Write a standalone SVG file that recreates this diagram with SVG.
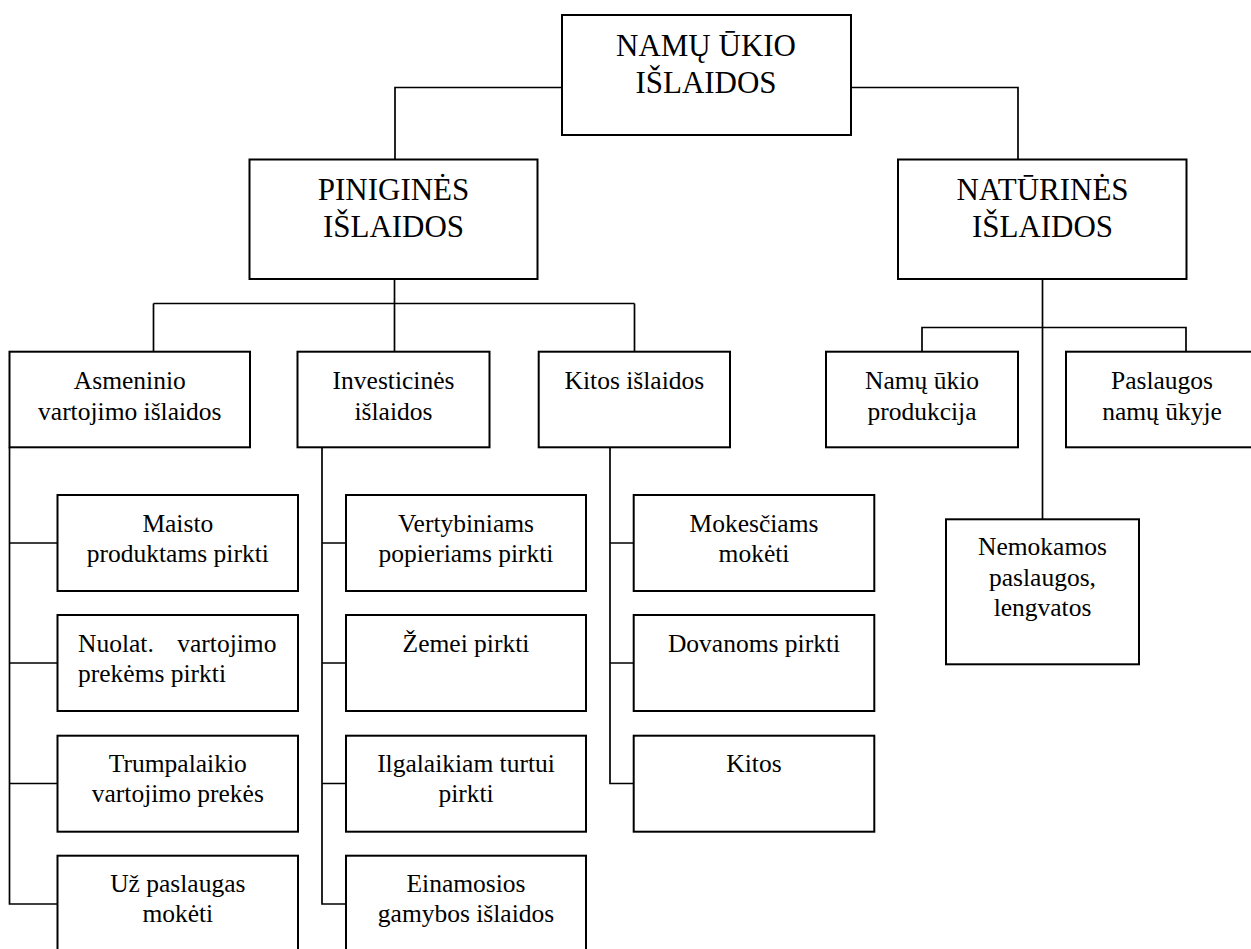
<svg xmlns="http://www.w3.org/2000/svg" width="1251" height="949" viewBox="0 0 1251 949" font-family="Liberation Serif, Times New Roman, Times, serif">
<style>
.box{fill:#fff;stroke:#000;stroke-width:2}
.ln{fill:none;stroke:#000;stroke-width:1.7}
.big,.sm{font-family:"Liberation Serif","Times New Roman",Times,serif;fill:#000;text-anchor:middle}
.big{font-size:31px}
.sm{font-size:25.5px}
</style>
<rect width="1251" height="949" fill="#fff"/>
<g id="connectors" class="ln">
<path d="M562,87.5 H395 V159.5"/>
<path d="M851,87.5 H1018 V159.5"/>
<path d="M394.5,279 V303.5"/>
<path d="M153.5,303.5 H634.5"/>
<path d="M153.5,303.5 V351.7 M394.5,303.5 V351.7 M634.5,303.5 V351.7"/>
<path d="M9.5,447.3 V904 H57.5 M9.5,543 H57.5 M9.5,663 H57.5 M9.5,783.5 H57.5"/>
<path d="M322,447.3 V904 H346 M322,543 H346 M322,663 H346 M322,783.5 H346"/>
<path d="M610,447.3 V783.5 H633.7 M610,543 H633.7 M610,663 H633.7"/>
<path d="M1042.5,279 V519.3"/>
<path d="M922,351.7 V327.5 H1186 V351.7"/>
</g>
<g id="n-top"><rect class="box" x="562" y="15" width="289" height="120"/><text class="big" x="706" y="56">NAMŲ ŪKIO</text><text class="big" x="706" y="93">IŠLAIDOS</text></g>
<g id="n-pinig"><rect class="box" x="249.5" y="159.5" width="288" height="119.5"/><text class="big" x="393.5" y="200">PINIGINĖS</text><text class="big" x="393.5" y="237">IŠLAIDOS</text></g>
<g id="n-natur"><rect class="box" x="898" y="159.5" width="288.5" height="119.5"/><text class="big" x="1042.5" y="200">NATŪRINĖS</text><text class="big" x="1042.5" y="237">IŠLAIDOS</text></g>
<g id="n-asmen"><rect class="box" x="9.5" y="351.7" width="240.5" height="95.6"/><text class="sm" x="129.8" y="389">Asmeninio</text><text class="sm" x="129.8" y="420">vartojimo išlaidos</text></g>
<g id="n-invest"><rect class="box" x="297.5" y="351.7" width="192" height="95.6"/><text class="sm" x="393.5" y="389">Investicinės</text><text class="sm" x="393.5" y="420">išlaidos</text></g>
<g id="n-kitos"><rect class="box" x="538.7" y="351.7" width="191.3" height="95.6"/><text class="sm" x="634.4" y="389">Kitos išlaidos</text></g>
<g id="n-namu"><rect class="box" x="826" y="351.7" width="192" height="95.6"/><text class="sm" x="922" y="389">Namų ūkio</text><text class="sm" x="922" y="420">produkcija</text></g>
<g id="n-pasl"><rect class="box" x="1066" y="351.7" width="192" height="95.6"/><text class="sm" x="1162" y="389">Paslaugos</text><text class="sm" x="1162" y="420">namų ūkyje</text></g>
<g id="n-nemok"><rect class="box" x="946" y="519.3" width="193" height="145"/><text class="sm" x="1042.5" y="555">Nemokamos</text><text class="sm" x="1042.5" y="586">paslaugos,</text><text class="sm" x="1042.5" y="616">lengvatos</text></g>
<g id="n-maisto"><rect class="box" x="57.5" y="495" width="240.5" height="96"/><text class="sm" x="177.8" y="531.7">Maisto</text><text class="sm" x="177.8" y="561.7">produktams pirkti</text></g>
<g id="n-nuolat"><rect class="box" x="57.5" y="615" width="240.5" height="96"/><text class="sm" style="text-anchor:start"><tspan x="78" y="651.7">Nuolat.</tspan><tspan x="177.3" y="651.7">vartojimo</tspan><tspan x="78" y="681.7">prekėms pirkti</tspan></text></g>
<g id="n-trump"><rect class="box" x="57.5" y="735.7" width="240.5" height="96"/><text class="sm" x="177.8" y="772.4">Trumpalaikio</text><text class="sm" x="177.8" y="802.4">vartojimo prekės</text></g>
<g id="n-uz"><rect class="box" x="57.5" y="855.7" width="240.5" height="96"/><text class="sm" x="177.8" y="892.4">Už paslaugas</text><text class="sm" x="177.8" y="922.4">mokėti</text></g>
<g id="n-vert"><rect class="box" x="346" y="495" width="240" height="96"/><text class="sm" x="466" y="531.7">Vertybiniams</text><text class="sm" x="466" y="561.7">popieriams pirkti</text></g>
<g id="n-zemei"><rect class="box" x="346" y="615" width="240" height="96"/><text class="sm" x="466" y="651.7">Žemei pirkti</text></g>
<g id="n-ilg"><rect class="box" x="346" y="735.7" width="240" height="96"/><text class="sm" x="466" y="772.4">Ilgalaikiam turtui</text><text class="sm" x="466" y="802.4">pirkti</text></g>
<g id="n-ein"><rect class="box" x="346" y="855.7" width="240" height="96"/><text class="sm" x="466" y="892.4">Einamosios</text><text class="sm" x="466" y="922.4">gamybos išlaidos</text></g>
<g id="n-mok"><rect class="box" x="633.7" y="495" width="240.6" height="96"/><text class="sm" x="754" y="531.7">Mokesčiams</text><text class="sm" x="754" y="561.7">mokėti</text></g>
<g id="n-dov"><rect class="box" x="633.7" y="615" width="240.6" height="96"/><text class="sm" x="754" y="651.7">Dovanoms pirkti</text></g>
<g id="n-kit"><rect class="box" x="633.7" y="735.7" width="240.6" height="96"/><text class="sm" x="754" y="772.4">Kitos</text></g>
</svg>
